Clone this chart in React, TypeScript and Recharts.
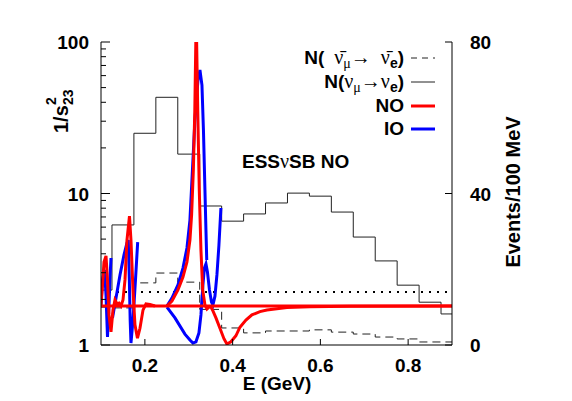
import React from 'react';
import { ComposedChart, Line, XAxis, YAxis, ReferenceLine } from 'recharts';

const SANS = '"Liberation Sans", Arial, Helvetica, sans-serif';
const SERIF = '"Liberation Serif", "DejaVu Serif", serif';

// energy bin centres (GeV), events per 100 MeV on the right axis
const binE = [0.1, 0.15, 0.2, 0.25, 0.3, 0.35, 0.4, 0.45, 0.5, 0.55, 0.6, 0.65, 0.7, 0.75, 0.8, 0.85, 0.9];
const nuEvents = [14.5, 31.7, 55.9, 65.4, 50.4, 36.7, 32.7, 34.6, 37.5, 40.1, 39.3, 35.1, 28.5, 22.2, 15.8, 11.3, 8.2];
const antiNuEvents = [10, 9.8, 16.4, 19, 16.6, 9.4, 4.5, 3.2, 3.7, 3.7, 4.0, 3.4, 2.9, 2.1, 1.6, 0.8, 0.8];

const dottedLevel = 2.24;
const noTrue = 1.81;

// 1/s^2_23 solution branches, [E, value] on the left (log) axis
const noFlat = [[0.1, noTrue], [0.9, noTrue]];
const noLow = [
  [0.1, 1.81], [0.1034, 2.49], [0.1068, 3.53], [0.1114, 3.87], [0.1148, 2.69], [0.1182, 1.58],
  [0.1228, 1.22], [0.1273, 1.7], [0.1319, 1.98], [0.1364, 1.87], [0.141, 1.89], [0.1456, 1.81],
  [0.1501, 1.98], [0.1547, 2.69], [0.1592, 4.93], [0.1649, 7.1], [0.1683, 4.93], [0.1729, 2.31],
  [0.1774, 1.36], [0.1831, 1.11], [0.1888, 1.29], [0.1957, 1.7], [0.2025, 1.87], [0.2116, 1.85],
  [0.223, 1.81],
];
const noSpike = [
  [0.2503, 1.81], [0.2617, 1.95], [0.2754, 2.31], [0.2868, 2.81], [0.2959, 3.53], [0.3027, 4.93],
  [0.3065, 7.21], [0.3105, 14.3], [0.3138, 35.6], [0.317, 150], [0.3205, 35.6], [0.324, 10.55],
  [0.3278, 4.24], [0.3318, 2.31], [0.3369, 1.84], [0.3415, 1.73], [0.346, 1.78], [0.3506, 1.78],
  [0.3551, 1.68], [0.362, 1.51], [0.3711, 1.29], [0.3802, 1.1], [0.387, 1.015], [0.3961, 1.05],
  [0.4075, 1.15], [0.4166, 1.31], [0.4303, 1.46], [0.444, 1.58], [0.4622, 1.66], [0.4781, 1.7],
  [0.5237, 1.77], [0.5761, 1.79], [0.6672, 1.8], [0.9, 1.81],
];
const ioLow1 = [
  [0.1, 1.84], [0.1034, 2.69], [0.108, 3.13], [0.1114, 2.14], [0.1148, 1.13], [0.1182, 1.84],
  [0.1205, 2.77], [0.1228, 3.75],
];
const ioLow2 = [
  [0.1262, 1.51], [0.1342, 2.04], [0.1433, 2.9], [0.1524, 3.93], [0.1592, 4.71], [0.1622, 4.93],
  [0.1645, 2.77], [0.1665, 1.46], [0.1683, 1.03], [0.1729, 1.46], [0.1786, 2.69], [0.1836, 4.78],
];
const ioSpike = [
  [0.2503, 1.81], [0.2617, 2.04], [0.2754, 2.49], [0.2868, 3.22], [0.2959, 4.37], [0.3027, 6.68],
  [0.3073, 12.3], [0.3141, 30.6], [0.321, 56.1], [0.3255, 65.3], [0.3301, 52.0], [0.3335, 26.2],
  [0.3369, 10.55], [0.3392, 5.74], [0.341, 3.64],
];
const ioDip = [
  [0.2503, 1.78], [0.2686, 1.51], [0.2913, 1.18], [0.3027, 1.08], [0.3096, 1.03], [0.3164, 1.05],
  [0.3232, 1.2], [0.3278, 1.58], [0.3323, 2.49], [0.3357, 3.22], [0.3392, 3.43], [0.3426, 3.03],
  [0.3472, 2.31], [0.3518, 1.92], [0.3551, 1.84], [0.3597, 2.1], [0.3642, 2.9], [0.3688, 4.57],
  [0.3733, 8.02],
];

const xTicks = [0.2, 0.4, 0.6, 0.8];
const leftTicks = [1, 2, 3, 4, 5, 6, 7, 8, 9, 10, 20, 30, 40, 50, 60, 70, 80, 90, 100];
const leftLabels = [1, 10, 100];
const rightTicks = [0, 40, 80];

const pts = (pairs: number[][]) => pairs.map(([x, y]) => ({ x, y }));
const hist = (vals: number[]) => binE.map((x, i) => ({ x, y: vals[i] }));

const LeftTick = (props: any) => {
  const { x, y, payload } = props;
  const major = leftLabels.includes(payload.value);
  return (
    <g>
      <line x1={x} x2={x + (major ? 9 : 5)} y1={y} y2={y} stroke="#000" />
      {major && (
        <text x={x - 12} y={y + 7} textAnchor="end" fontFamily={SANS} fontWeight="bold" fontSize={19} fill="#000">
          {payload.value}
        </text>
      )}
    </g>
  );
};

const RightTick = (props: any) => {
  const { x, y, payload } = props;
  return (
    <g>
      <line x1={x} x2={x - 7} y1={y} y2={y} stroke="#000" />
      <text x={x + 18} y={y + 7} textAnchor="start" fontFamily={SANS} fontWeight="bold" fontSize={19} fill="#000">
        {payload.value}
      </text>
    </g>
  );
};

const BottomTick = (props: any) => {
  const { x, y, payload } = props;
  return (
    <g>
      <line x1={x} x2={x} y1={y} y2={y - 6} stroke="#000" />
      <text x={x} y={y + 27} textAnchor="middle" fontFamily={SANS} fontWeight="bold" fontSize={19} fill="#000">
        {payload.value}
      </text>
    </g>
  );
};

const TopTick = (props: any) => {
  const { x, y } = props;
  return <line x1={x} x2={x} y1={y} y2={y + 6} stroke="#000" />;
};

const Overlay = () => {
  const nu = { fontFamily: SERIF, fontWeight: 'normal' as const, fontSize: 20 };
  const sub = { fontFamily: SERIF, fontWeight: 'normal' as const, fontSize: 14 };
  return (
    <svg width={572} height={401} style={{ position: 'absolute', left: 0, top: 0, pointerEvents: 'none' }}>
      <g fontFamily={SANS} fontWeight="bold" fill="#000">
        {/* axis titles */}
        <g transform="translate(68,133) rotate(-90)">
          <text x={0} y={0} fontSize={20}>1/s</text>
          <text x={28} y={-12} fontSize={14}>2</text>
          <text x={28} y={5} fontSize={14}>23</text>
        </g>
        <text transform="translate(520,192) rotate(-90)" textAnchor="middle" fontSize={20}>Events/100 MeV</text>
        <text x={277} y={390} textAnchor="middle" fontSize={19}>E (GeV)</text>

        {/* annotation */}
        <text x={242} y={168} fontSize={19}>
          ESS<tspan {...nu}>ν</tspan>SB NO
        </text>

        {/* legend */}
        <text x={404} y={64} textAnchor="end" fontSize={19}>
          N(<tspan {...nu}>{'\u00A0\u00A0ν\u0304'}</tspan>
          <tspan {...sub} dy={4}>μ</tspan>
          <tspan {...nu} dy={-4}>{'→\u00A0\u00A0ν\u0304'}</tspan>
          <tspan fontSize={14} dy={4}>e</tspan>
          <tspan dy={-4}>)</tspan>
        </text>
        <text x={404} y={88} textAnchor="end" fontSize={19}>
          N(<tspan {...nu}>ν</tspan>
          <tspan {...sub} dy={4}>μ</tspan>
          <tspan {...nu} dy={-4}>→ν</tspan>
          <tspan fontSize={14} dy={4}>e</tspan>
          <tspan dy={-4}>)</tspan>
        </text>
        <text x={404} y={112} textAnchor="end" fontSize={19}>NO</text>
        <text x={404} y={135} textAnchor="end" fontSize={19}>IO</text>
      </g>
      <line x1={411} x2={435} y1={58} y2={58} stroke="#222" strokeDasharray="6 5" />
      <line x1={411} x2={435} y1={82} y2={82} stroke="#222" />
      <line x1={411} x2={435} y1={106} y2={106} stroke="#ff0000" strokeWidth={3} />
      <line x1={411} x2={435} y1={129} y2={129} stroke="#0000ff" strokeWidth={3} />
    </svg>
  );
};

const curve = (key: string, pairs: number[][], color: string) => (
  <Line
    key={key}
    data={pts(pairs)}
    dataKey="y"
    xAxisId="b"
    yAxisId="l"
    type="linear"
    stroke={color}
    strokeWidth={3}
    dot={false}
    activeDot={false}
    isAnimationActive={false}
  />
);

export default function App() {
  return (
    <div style={{ position: 'absolute', left: 0, top: 0, width: 572, height: 401, background: '#fff' }}>
      <ComposedChart width={572} height={401} margin={{ top: 42, right: 60, bottom: 26, left: 41 }}>
        <XAxis
          xAxisId="b"
          type="number"
          dataKey="x"
          domain={[0.1, 0.9]}
          ticks={xTicks}
          interval={0}
          allowDataOverflow
          height={30}
          tickSize={0}
          tickMargin={0}
          tickLine={false}
          axisLine={{ stroke: '#000' }}
          tick={<BottomTick />}
        />
        <XAxis
          xAxisId="t"
          orientation="top"
          type="number"
          dataKey="x"
          domain={[0.1, 0.9]}
          ticks={xTicks}
          interval={0}
          allowDataOverflow
          height={0}
          tickSize={0}
          tickMargin={0}
          tickLine={false}
          axisLine={{ stroke: '#000' }}
          tick={<TopTick />}
        />
        <YAxis
          yAxisId="l"
          type="number"
          scale="log"
          domain={[1, 100]}
          ticks={leftTicks}
          interval={0}
          allowDataOverflow
          width={60}
          tickSize={0}
          tickMargin={0}
          tickLine={false}
          axisLine={{ stroke: '#000' }}
          tick={<LeftTick />}
        />
        <YAxis
          yAxisId="r"
          orientation="right"
          type="number"
          domain={[0, 80]}
          ticks={rightTicks}
          interval={0}
          allowDataOverflow
          width={60}
          tickSize={0}
          tickMargin={0}
          tickLine={false}
          axisLine={{ stroke: '#000' }}
          tick={<RightTick />}
        />
        <Line
          data={hist(antiNuEvents)}
          dataKey="y"
          xAxisId="b"
          yAxisId="r"
          type="step"
          stroke="#222"
          strokeWidth={1}
          strokeDasharray="8 5"
          dot={false}
          activeDot={false}
          isAnimationActive={false}
        />
        <Line
          data={hist(nuEvents)}
          dataKey="y"
          xAxisId="b"
          yAxisId="r"
          type="step"
          stroke="#222"
          strokeWidth={1}
          dot={false}
          activeDot={false}
          isAnimationActive={false}
        />
        <ReferenceLine xAxisId="b" yAxisId="l" y={dottedLevel} stroke="#000" strokeWidth={2} strokeDasharray="2 6" />
        {curve('io1', ioLow1, '#0000ff')}
        {curve('io2', ioLow2, '#0000ff')}
        {curve('io3', ioSpike, '#0000ff')}
        {curve('io4', ioDip, '#0000ff')}
        {curve('no1', noLow, '#ff0000')}
        {curve('no2', noSpike, '#ff0000')}
        {curve('no3', noFlat, '#ff0000')}
      </ComposedChart>
      <Overlay />
    </div>
  );
}
